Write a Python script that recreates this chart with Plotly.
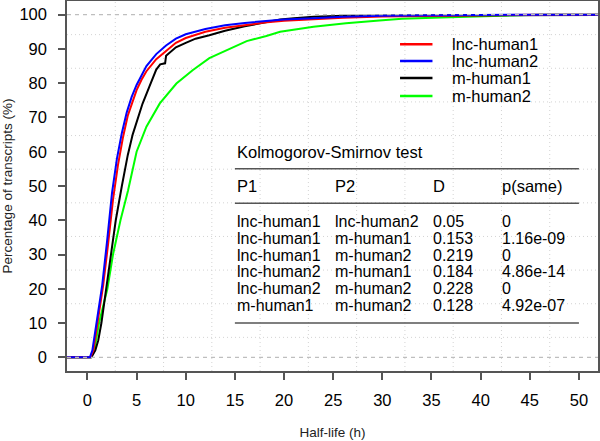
import plotly.graph_objects as go

# ---------------- data ----------------
series_names = ["lnc-human1", "lnc-human2", "m-human1", "m-human2"]
series_colors = ["#FF0000", "#0000FF", "#000000", "#00FF00"]

x_lnc1 = [-3, 0.3, 0.6, 1.1, 1.6, 2.1, 2.6, 3.1, 3.6, 4.1, 4.6, 5.0, 5.5, 6.0, 7.0, 8.0, 9.0, 10,
          12, 14, 16, 18, 20, 23, 26, 30, 35, 40, 45, 46, 60]
y_lnc1 = [0, 0, 2, 11, 21, 33, 46, 56, 64, 70.5, 75, 78, 81, 83.5, 87, 89.5, 91.8, 93.2,
          95, 96.2, 97, 97.7, 98.2, 98.7, 99.1, 99.5, 99.7, 99.8, 99.9, 100, 100]

x_lnc2 = [-3, 0.25, 0.5, 1.0, 1.5, 2.0, 2.5, 3.0, 3.5, 4.0, 4.5, 5.0, 5.5, 6.0, 7.0, 8.0, 9.0, 10,
          12, 14, 16, 18, 20, 23, 26, 30, 35, 40, 45, 60]
y_lnc2 = [0, 0, 2, 11, 21, 34, 48, 58, 65.5, 71.5, 76, 79.5, 82.5, 85, 88.5, 91, 93, 94.3,
          95.8, 96.9, 97.6, 98.2, 98.6, 99.0, 99.4, 99.7, 99.85, 99.95, 100, 100]

x_m1 = [-3, 0.4, 0.8, 1.1, 1.42, 1.93, 2.37, 2.88, 3.5, 4.1, 4.6, 5.15, 5.6, 6.3, 7.0, 7.4, 7.9, 8.0,
        9.0, 10, 11, 12.4, 14, 16, 18, 19.6, 21, 23, 26, 30, 35, 40, 60]
y_m1 = [0, 0, 2, 5, 10, 20, 30, 40, 50, 59, 65, 70, 74, 79, 84, 85.5, 85.8, 88,
        90.5, 91.8, 93, 94, 95.3, 96.6, 97.8, 98.6, 99.0, 99.4, 99.7, 99.8, 99.9, 100, 100]

x_m2 = [-3, 0.35, 0.7, 1.18, 1.6, 2.03, 2.6, 3.36, 4.13, 5.0, 6.0, 7.36, 9.05, 10.7, 12.4, 14.8,
        16.2, 18.2, 19.6, 23, 26.3, 29.7, 32, 36, 40, 44, 46, 60]
y_m2 = [0, 0, 2, 10, 15, 20, 30, 40, 48.7, 60, 67.3, 74.1, 79.9, 83.8, 87.3, 90.4,
        92.3, 93.8, 95, 96.5, 97.5, 98.3, 98.8, 99.2, 99.5, 99.7, 100, 100]

x_tick_vals = [0, 5, 10, 15, 20, 25, 30, 35, 40, 45, 50]
y_tick_vals = [0, 10, 20, 30, 40, 50, 60, 70, 80, 90, 100]

ks_title = "Kolmogorov-Smirnov test"
ks_header = ["P1", "P2", "D", "p(same)"]
ks_p1 = ["lnc-human1", "lnc-human1", "lnc-human1", "lnc-human2", "lnc-human2", "m-human1"]
ks_p2 = ["lnc-human2", "m-human1", "m-human2", "m-human1", "m-human2", "m-human2"]
ks_d = ["0.05", "0.153", "0.219", "0.184", "0.228", "0.128"]
ks_p = ["0", "1.16e-09", "0", "4.86e-14", "0", "4.92e-07"]

# ---------------- figure ----------------
FONT = "Liberation Sans, Arial, sans-serif"
FS = 16.5
FS_TAB = 16
XR = [-2.08, 51.94]
YR = [-4, 104]

fig = go.Figure()

xs = [x_lnc1, x_lnc2, x_m1, x_m2]
ys = [y_lnc1, y_lnc2, y_m1, y_m2]
for i in [3, 2, 0, 1]:
    fig.add_trace(go.Scatter(x=xs[i], y=ys[i], mode="lines", name=series_names[i],
                             line=dict(color=series_colors[i], width=2),
                             showlegend=False, hoverinfo="skip"))

shapes = []
# R-style grid(11, 11): dotted light gray lines dividing the plot region
for k in range(1, 11):
    gx = XR[0] + (XR[1] - XR[0]) * k / 11
    shapes.append(dict(type="line", xref="x", yref="paper", x0=gx, x1=gx, y0=0, y1=1,
                       line=dict(color="#D3D3D3", width=1, dash="1px,3px"), layer="below"))
    gy = YR[0] + (YR[1] - YR[0]) * k / 11
    shapes.append(dict(type="line", xref="paper", yref="y", x0=0, x1=1, y0=gy, y1=gy,
                       line=dict(color="#D3D3D3", width=1, dash="1px,3px"), layer="below"))
# dashed reference lines at 0 and 100
for h in [0, 100]:
    shapes.append(dict(type="line", xref="paper", yref="y", x0=0, x1=1, y0=h, y1=h,
                       line=dict(color="#BEBEBE", width=1.2, dash="4px,4px"), layer="above"))

# legend (manual, R style without box)
leg_y = [91.4, 86.5, 81.5, 76.3]
annotations = []
for i, name in enumerate(series_names):
    shapes.append(dict(type="line", xref="x", yref="y", x0=31.8, x1=35.1, y0=leg_y[i], y1=leg_y[i],
                       line=dict(color=series_colors[i], width=2.5)))
    annotations.append(dict(x=36.9, y=leg_y[i], xref="x", yref="y", text=name, showarrow=False,
                            xanchor="left", yanchor="middle",
                            font=dict(family=FONT, size=FS, color="#000")))

# KS table
col_x = [15, 25, 35, 42]
annotations.append(dict(x=col_x[0], y=60, xref="x", yref="y", text=ks_title, showarrow=False,
                        xanchor="left", yanchor="middle", font=dict(family=FONT, size=FS, color="#000")))
for j, h in enumerate(ks_header):
    annotations.append(dict(x=col_x[j], y=50, xref="x", yref="y", text=h, showarrow=False,
                            xanchor="left", yanchor="middle", font=dict(family=FONT, size=FS, color="#000")))
row_y = [39.6, 34.7, 29.8, 24.9, 20.0, 15.1]
for r in range(len(ks_p1)):
    for j, v in enumerate([ks_p1[r], ks_p2[r], ks_d[r], ks_p[r]]):
        annotations.append(dict(x=col_x[j], y=row_y[r], xref="x", yref="y", text=v, showarrow=False,
                                xanchor="left", yanchor="middle",
                                font=dict(family=FONT, size=FS_TAB, color="#000")))
for ly in [55, 45, 10]:
    shapes.append(dict(type="line", xref="x", yref="y", x0=15, x1=50, y0=ly, y1=ly,
                       line=dict(color="#555555", width=1.5)))

fig.update_layout(
    width=600, height=441,
    margin=dict(l=67, r=2, t=1, b=70),
    paper_bgcolor="white", plot_bgcolor="white",
    shapes=shapes, annotations=annotations,
    font=dict(family=FONT, color="#000"),
)
fig.update_xaxes(range=XR, tickvals=x_tick_vals, ticktext=[str(v) for v in x_tick_vals],
                 automargin=False,
                 showgrid=False, zeroline=False, showline=True, mirror=True,
                 linecolor="#555555", linewidth=1.5, ticks="outside", ticklen=7,
                 tickcolor="#555555", tickwidth=1.5, ticklabelstandoff=6,
                 tickfont=dict(family=FONT, size=FS, color="#000"),
                 title=dict(text="Half-life (h)", standoff=20,
                            font=dict(family=FONT, size=13.5, color="#222")))
fig.update_yaxes(range=YR, tickvals=y_tick_vals, ticktext=[str(v) for v in y_tick_vals],
                 automargin=False,
                 showgrid=False, zeroline=False, showline=True, mirror=True,
                 linecolor="#555555", linewidth=1.5, ticks="outside", ticklen=7,
                 tickcolor="#555555", tickwidth=1.5, ticklabelstandoff=8,
                 tickfont=dict(family=FONT, size=FS, color="#000"),
                 title=dict(text="Percentage of transcripts (%)", standoff=6,
                            font=dict(family=FONT, size=13.5, color="#222")))

fig.write_html("out.html", config={"displayModeBar": False},
               post_script="document.body.style.margin='0';document.body.style.overflow='hidden';")
